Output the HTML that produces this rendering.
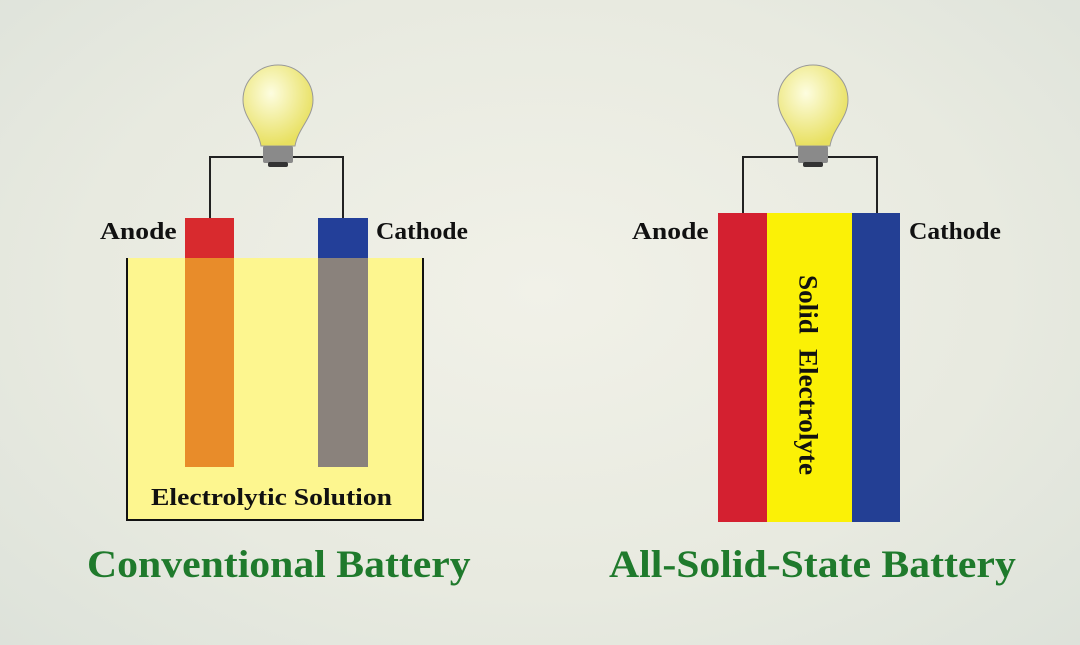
<!DOCTYPE html>
<html><head><style>
body{margin:0;width:1080px;height:645px;overflow:hidden;background:radial-gradient(ellipse at 50% 45%,#f1f1e8 0%,#e8eae0 60%,#dde2da 100%);font-family:"Liberation Serif",serif;}
.a{position:absolute}
.lbl{position:absolute;font-weight:bold;font-size:24px;color:#111;line-height:1;transform-origin:0 0;white-space:nowrap}
.t{position:absolute;font-weight:bold;font-size:39px;color:#1f7a2c;line-height:1;white-space:nowrap;transform-origin:0 0;transform:scaleX(1.07)}
</style></head><body>
<svg class="a" style="left:0;top:0" width="1080" height="645">
<defs><radialGradient id="g" cx="40%" cy="35%" r="65%"><stop offset="0" stop-color="#fdfde0"/><stop offset="1" stop-color="#e8e060"/></radialGradient></defs>
<rect x="127" y="258" width="296" height="262" fill="#fdf68f"/>
<polyline points="127,258 127,520 423,520 423,258" fill="none" stroke="#111" stroke-width="2"/>
<rect x="185" y="218" width="49" height="40" fill="#d82a2e"/>
<rect x="185" y="258" width="49" height="209" fill="#e88c2a"/>
<rect x="318" y="218" width="50" height="40" fill="#233f99"/>
<rect x="318" y="258" width="50" height="209" fill="#8a827c"/>
<polyline points="210,218 210,157 343,157 343,218" fill="none" stroke="#222" stroke-width="2"/>
<g transform="translate(278,0)">
<path d="M-35,100 A35,35 0 1 1 35,100 C35,118 20,128 17,146 L-17,146 C-20,128 -35,118 -35,100Z" fill="url(#g)" stroke="#999" stroke-width="1"/>
<rect x="-15" y="146" width="30" height="17" rx="2" fill="#8a8a8a"/>
<rect x="-10" y="162" width="20" height="5" rx="2" fill="#333"/>
</g>
<rect x="718" y="213" width="49" height="309" fill="#d42030"/>
<rect x="767" y="213" width="85" height="309" fill="#fbf106"/>
<rect x="852" y="213" width="48" height="309" fill="#233f94"/>
<polyline points="743,213 743,157 877,157 877,213" fill="none" stroke="#222" stroke-width="2"/>
<g transform="translate(813,0)">
<path d="M-35,100 A35,35 0 1 1 35,100 C35,118 20,128 17,146 L-17,146 C-20,128 -35,118 -35,100Z" fill="url(#g)" stroke="#999" stroke-width="1"/>
<rect x="-15" y="146" width="30" height="17" rx="2" fill="#8a8a8a"/>
<rect x="-10" y="162" width="20" height="5" rx="2" fill="#333"/>
</g>
<text x="808" y="375" transform="rotate(90 808 375)" text-anchor="middle" dominant-baseline="central" font-family="Liberation Serif,serif" font-weight="bold" font-size="26" fill="#111" word-spacing="8" textLength="200" lengthAdjust="spacingAndGlyphs">Solid Electrolyte</text>
</svg>
<div class="lbl" style="left:100px;top:220px;transform:scaleX(1.15)">Anode</div>
<div class="lbl" style="left:376px;top:220px;transform:scaleX(1.06)">Cathode</div>
<div class="lbl" style="left:151px;top:486px;transform:scaleX(1.15)">Electrolytic Solution</div>
<div class="lbl" style="left:632px;top:220px;transform:scaleX(1.15)">Anode</div>
<div class="lbl" style="left:909px;top:220px;transform:scaleX(1.06)">Cathode</div>
<div class="t" style="left:87px;top:545px">Conventional Battery</div>
<div class="t" style="left:609px;top:545px">All-Solid-State Battery</div>
</body></html>
